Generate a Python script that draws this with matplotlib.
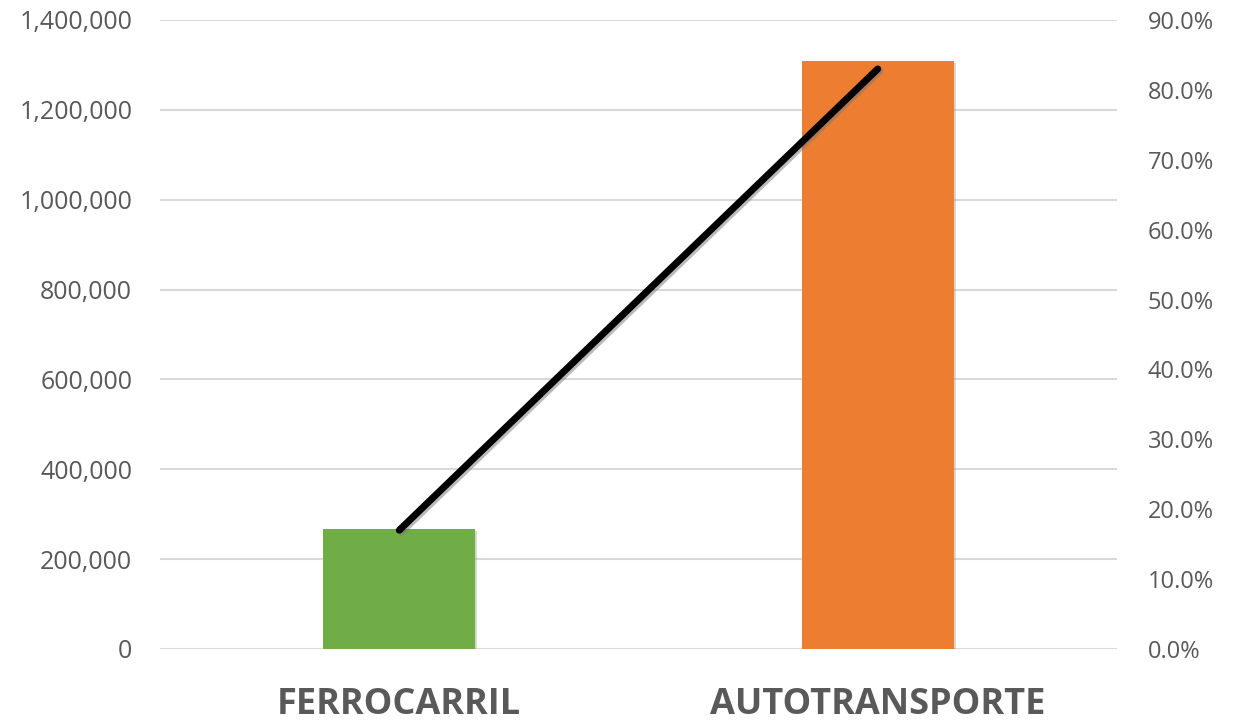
import numpy as np
import matplotlib.pyplot as plt
import matplotlib.patheffects as pe
from matplotlib.ticker import FuncFormatter

# data
categories = ["FERROCARRIL", "AUTOTRANSPORTE"]
toneladas = [267000, 1309000]
participacion = [0.17, 0.83]
bar_colors = ["#70AD47", "#ED7D31"]

plt.rcParams["font.family"] = ["Open Sans", "DejaVu Sans"]
grey = "#595959"

fig = plt.figure(figsize=(12.37, 7.22), dpi=100)
ax = fig.add_axes([160 / 1237, 73 / 722, 957 / 1237, 629 / 722])
ax2 = ax.twinx()

x = np.arange(len(categories))
ax.bar(x, toneladas, width=0.317, color=bar_colors, zorder=3,
       path_effects=[pe.SimplePatchShadow(offset=(1.5, -1.5), shadow_rgbFace="#999999", alpha=0.4), pe.Normal()])

ax.set_xlim(-0.5, 1.5)
ax.set_ylim(0, 1400000)
ax.set_yticks(np.arange(0, 1400001, 200000))
ax.yaxis.set_major_formatter(FuncFormatter(lambda v, p: f"{v:,.0f}"))
ax.grid(axis="y", color="#D9D9D9", linewidth=1.5, zorder=0)
ax.set_axisbelow(True)

ax2.plot(x, participacion, color="black", linewidth=5, solid_capstyle="round", zorder=5,
         path_effects=[pe.SimpleLineShadow(offset=(1.5, -1.5), shadow_color="#777777", alpha=0.5), pe.Normal()])
ax2.set_ylim(0, 0.9)
ax2.set_yticks(np.arange(0, 0.91, 0.1))
ax2.yaxis.set_major_formatter(FuncFormatter(lambda v, p: f"{v * 100:.1f}%"))

for a in (ax, ax2):
    for s in a.spines.values():
        s.set_visible(False)
    a.tick_params(length=0, colors=grey, labelsize=17)

ax.tick_params(axis="y", pad=20, labelsize=18)
ax2.tick_params(axis="y", pad=22)
ax.set_xticks(x)
ax.set_xticklabels(categories, fontsize=26, fontweight="bold", color=grey)
ax.tick_params(axis="x", pad=27)

plt.savefig("out.png", dpi=100)
